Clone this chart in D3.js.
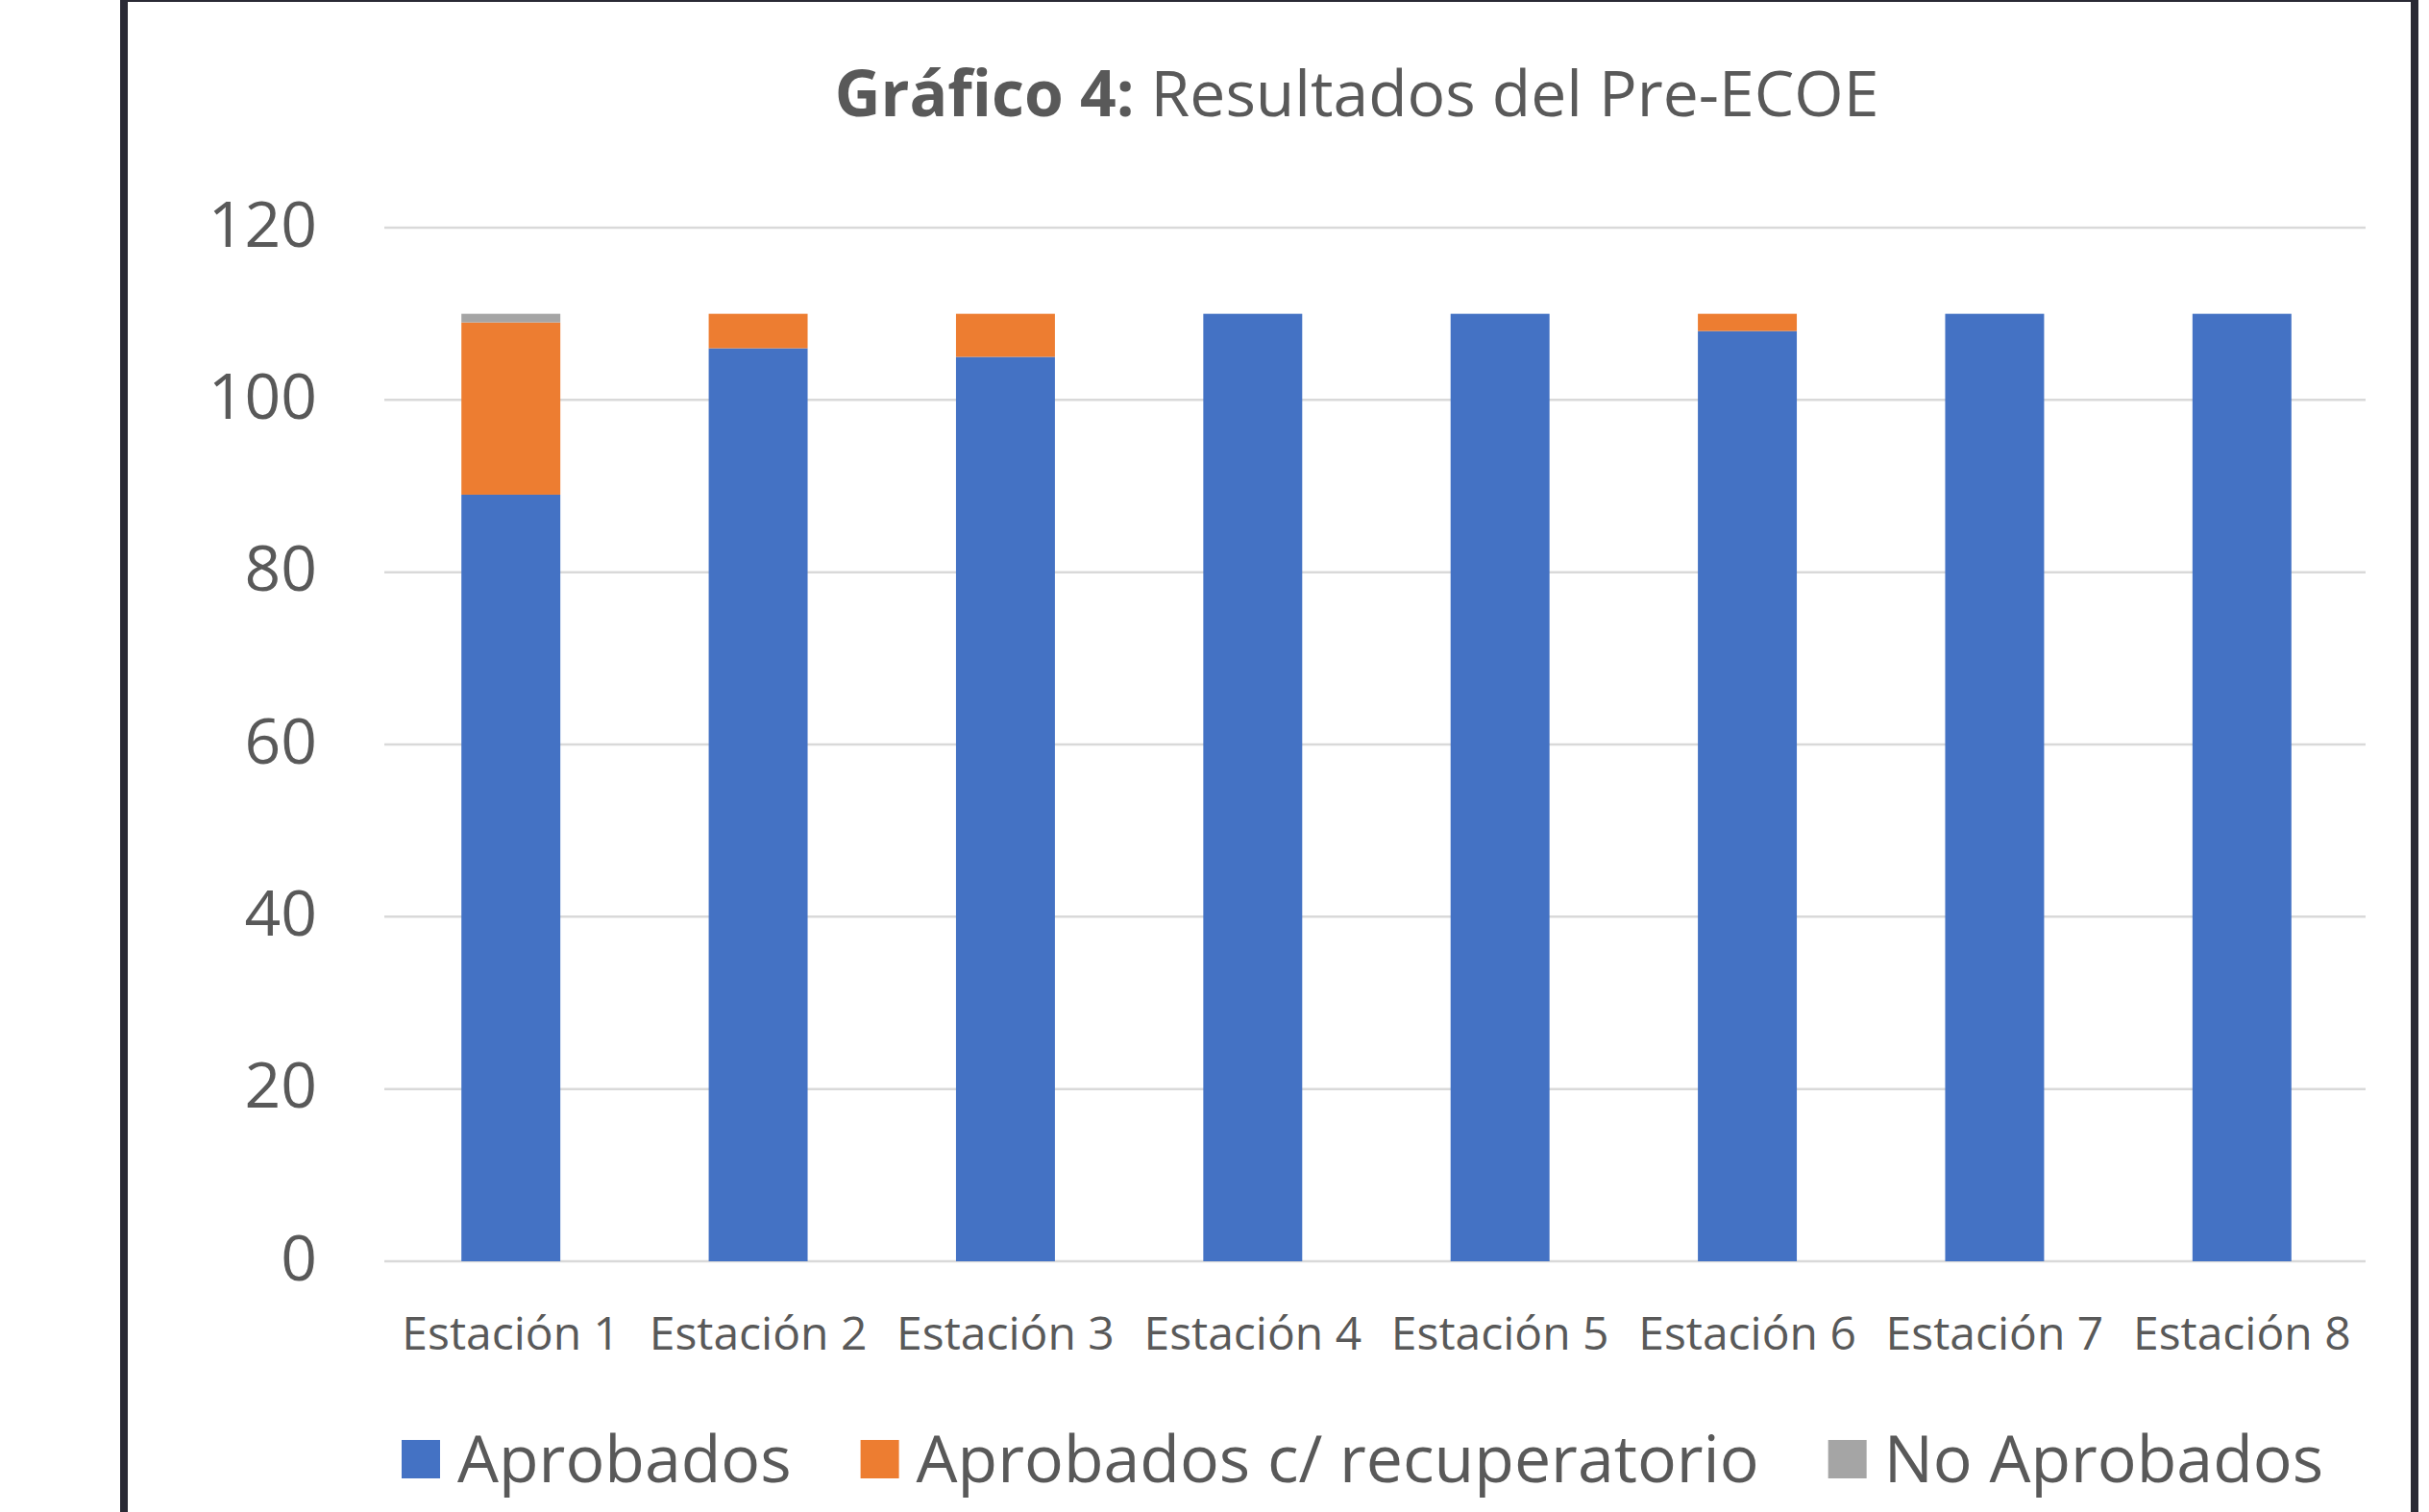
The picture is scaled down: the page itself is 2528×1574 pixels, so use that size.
<!DOCTYPE html>
<html>
<head>
<meta charset="utf-8">
<style>
  body { margin: 0; background: #fff; }
  text { font-family: "Open Sans", "Noto Sans", sans-serif; fill: #595959; }
</style>
</head>
<body>
<svg width="2528" height="1574"></svg>
<script src="https://d3js.org/d3.v7.min.js"></script>
<script>

var stations = ["Estación 1", "Estación 2", "Estación 3", "Estación 4",
                "Estación 5", "Estación 6", "Estación 7", "Estación 8"];
var aprobados = [89, 106, 105, 110, 110, 108, 110, 110];
var recuperatorio = [20, 4, 5, 0, 0, 2, 0, 0];
var noAprobados = [1, 0, 0, 0, 0, 0, 0, 0];
var seriesNames = ["Aprobados", "Aprobados c/ recuperatorio", "No Aprobados"];
var seriesColors = ["#4472C4", "#ED7D31", "#A5A5A5"];
var yTicks = [0, 20, 40, 60, 80, 100, 120];

var svg = d3.select("svg");

// frame around the chart
svg.append("rect")
    .attr("x", 129).attr("y", -2)
    .attr("width", 2384).attr("height", 1600)
    .attr("fill", "none")
    .attr("stroke", "#2a2a35")
    .attr("stroke-width", 8);

var rows = stations.map(function(s, i) {
  return {station: s, a: aprobados[i], r: recuperatorio[i], n: noAprobados[i]};
});
var stack = d3.stack().keys(["a", "r", "n"])(rows);

var x = d3.scaleBand().domain(stations).range([403, 2462]).paddingInner(0.6).paddingOuter(0.3);
var y = d3.scaleLinear().domain([0, 120]).range([1313, 237]);

// gridlines
svg.append("g").selectAll("line")
    .data(yTicks)
  .enter().append("line")
    .attr("x1", 400).attr("x2", 2462)
    .attr("y1", function(d) { return y(d); })
    .attr("y2", function(d) { return y(d); })
    .attr("stroke", "#d9d9d9")
    .attr("stroke-width", 2.5);

// y axis labels
svg.append("g").selectAll("text")
    .data(yTicks)
  .enter().append("text")
    .attr("x", 330)
    .attr("y", function(d) { return y(d); })
    .attr("dy", "0.3em")
    .attr("text-anchor", "end")
    .style("font-size", "66px")
    .text(function(d) { return d; });

// stacked bars
svg.append("g").selectAll("g")
    .data(stack)
  .enter().append("g")
    .attr("fill", function(d, i) { return seriesColors[i]; })
  .selectAll("rect")
    .data(function(d) { return d; })
  .enter().append("rect")
    .attr("x", function(d) { return x(d.data.station); })
    .attr("width", x.bandwidth())
    .attr("y", function(d) { return y(d[1]); })
    .attr("height", function(d) { return y(d[0]) - y(d[1]); });

// x axis labels
svg.append("g").selectAll("text")
    .data(stations)
  .enter().append("text")
    .attr("x", function(d) { return x(d) + x.bandwidth() / 2; })
    .attr("y", 1388)
    .attr("dy", "0.36em")
    .attr("text-anchor", "middle")
    .style("font-size", "48px")
    .text(function(d) { return d; });

// title
var title = svg.append("text")
    .attr("x", 1412)
    .attr("y", 97)
    .attr("dy", "0.36em")
    .attr("text-anchor", "middle")
    .style("font-size", "66px");
title.append("tspan").style("font-weight", "bold").text("Gráfico 4:");
title.append("tspan").text(" Resultados del Pre-ECOE");

// legend
var legend = svg.append("g");
var lx = 418;
seriesNames.forEach(function(name, i) {
  legend.append("rect")
      .attr("x", lx).attr("y", 1499)
      .attr("width", 40).attr("height", 40)
      .attr("fill", seriesColors[i]);
  var t = legend.append("text")
      .attr("x", lx + 58)
      .attr("y", 1519)
      .attr("dy", "0.36em")
      .style("font-size", "68px")
      .text(name);
  lx = lx + 58 + t.node().getComputedTextLength() + 72;
});

</script>
</body>
</html>
